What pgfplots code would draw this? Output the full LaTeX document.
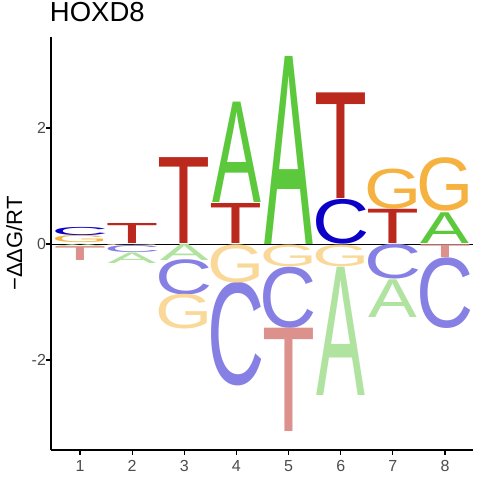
\documentclass[border=0pt]{standalone}
\usepackage{pgfplots}
\pgfplotsset{compat=1.18}
\usepackage{pgfplotstable}
\usepackage{graphicx}
\usepackage{fontspec}
\setmainfont{Liberation Sans}
\newfontfamily\logofont{Liberation Sans}

\definecolor{colA}{RGB}{92,200,60}
\definecolor{colC}{RGB}{12,0,200}
\definecolor{colG}{RGB}{245,178,64}
\definecolor{colT}{RGB}{187,40,30}
\definecolor{colAn}{RGB}{176,227,160}
\definecolor{colCn}{RGB}{135,128,228}
\definecolor{colGn}{RGB}{250,216,152}
\definecolor{colTn}{RGB}{220,145,140}
\definecolor{ticklab}{RGB}{77,77,77}

% x = position, y = bottom of the letter, h = height of the letter
\pgfplotstableread{
x y h
4 0.72 1.73
5 0 3.24
8 0 0.53
}\tabApos
\pgfplotstableread{
x y h
1 0.14 0.14
6 0 0.76
}\tabCpos
\pgfplotstableread{
x y h
1 0.02 0.12
7 0.60 0.68
8 0.56 0.91
}\tabGpos
\pgfplotstableread{
x y h
2 0 0.345
3 0 1.48
4 0 0.69
6 0.79 1.82
7 0 0.59
}\tabTpos
\pgfplotstableread{
x y h
1 -0.04 0.04
2 -0.34 0.18
3 -0.28 0.28
6 -2.62 2.21
7 -1.27 0.65
}\tabAneg
\pgfplotstableread{
x y h
2 -0.15 0.12
3 -0.88 0.60
4 -2.45 1.76
5 -1.45 1.04
7 -0.61 0.59
8 -1.46 1.20
}\tabCneg
\pgfplotstableread{
x y h
2 -0.025 0.02
3 -1.47 0.59
4 -0.67 0.65
5 -0.39 0.37
6 -0.39 0.37
}\tabGneg
\pgfplotstableread{
x y h
1 -0.28 0.24
5 -3.24 1.78
8 -0.24 0.22
}\tabTneg

\newlength\uy
\setlength\uy{57.997pt}
\newlength\lh

\pgfplotsset{
  logo/.style n args={3}{
    scatter, only marks, mark=*, mark size=0pt,
    visualization depends on={\thisrow{h} \as \hh},
    scatter/@pre marker code/.code={%
      \pgfmathsetlength\lh{\hh*\uy}%
      \node[anchor=south, inner sep=0pt, outer sep=0pt, text=#2] at (0pt,0pt)
        {\resizebox{#3}{\lh}{\logofont #1}};},
    scatter/@post marker code/.code={},
  },
}

\begin{document}
\begin{tikzpicture}
\path[use as bounding box] (0,0) rectangle (480pt,480pt);
\begin{axis}[
  at={(51pt,30pt)}, anchor=south west,
  scale only axis, width=422pt, height=413pt,
  xmin=0.444, xmax=8.537, ymin=-3.552, ymax=3.569,
  clip=false,
  axis x line=bottom, axis y line=left,
  axis line style={-, line width=1.3pt, black},
  xtick={1,2,3,4,5,6,7,8}, ytick={-2,0,2},
  yticklabels={-2,0,2},
  tick align=outside, major tick length=4.5pt,
  tick style={black, line width=1.1pt},
  tick label style={font=\fontsize{16}{16}\selectfont, text=ticklab},
  xticklabel style={yshift=-2pt},
  yticklabel style={xshift=3pt},
  /pgf/number format/assume math mode=true,
  title={HOXD8},
  title style={at={(axis description cs:-0.003,1.0242)}, anchor=base west,
    font=\fontsize{27.5}{27.5}\selectfont, inner sep=0pt},
  ylabel={−ΔΔG/RT},
  every axis y label/.style={at={(axis description cs:-0.0687,0.5)},
    rotate=90, anchor=base, inner sep=0pt, font=\fontsize{22}{22}\selectfont},
]
\addplot[logo={A}{colA}{48.8pt}] table {\tabApos};
\addplot[logo={C}{colC}{57.2pt}] table {\tabCpos};
\addplot[logo={G}{colG}{57.2pt}] table {\tabGpos};
\addplot[logo={T}{colT}{52.9pt}] table {\tabTpos};
\addplot[logo={A}{colAn}{48.8pt}] table {\tabAneg};
\addplot[logo={C}{colCn}{57.2pt}] table {\tabCneg};
\addplot[logo={G}{colGn}{57.2pt}] table {\tabGneg};
\addplot[logo={T}{colTn}{52.9pt}] table {\tabTneg};
\addplot[black, line width=0.7pt, mark=none] coordinates {(0.444,0) (8.537,0)};
\end{axis}
\end{tikzpicture}
\end{document}
